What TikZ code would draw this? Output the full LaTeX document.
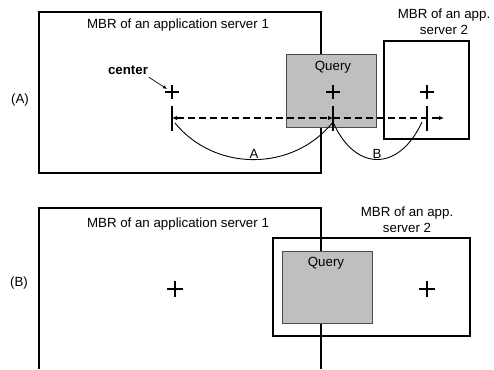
\documentclass[tikz,border=0pt]{standalone}
\usepackage{fontspec}
\setmainfont{Liberation Sans}
\usepackage{xcolor}
\usetikzlibrary{arrows.meta}
\begin{document}
\begin{tikzpicture}[x=1pt, y=-1pt, line width=1.4pt,
    lbl/.style={font=\fontsize{13.3}{16}\selectfont, align=center, inner sep=0pt},
    qbox/.style={fill=black!25, draw=black!70, line width=1pt},
    crossln/.style={line width=2pt},
    dashln/.style={line width=1.8pt, dash pattern=on 7pt off 4pt},
    dtip/.tip={Latex[length=5pt,width=4.5pt]}]
    \useasboundingbox (0,0) rectangle (494,369);
    % (A)
    \draw (39,12) rectangle (321,173);
    \draw (384,41) rectangle (469,139);
    \draw[qbox] (286,54) rectangle (376,127);
    \node[lbl] (srv1A) at (178,25) {MBR of an application server 1};
    \node[lbl] (srv2A) at (444,22) {MBR of an app.\\server 2};
    \node[lbl] (qryA) at (333,67) {Query};
    \node[lbl] (capA) at (20,100) {(A)};
    \node[lbl, font=\fontsize{13.3}{16}\selectfont\bfseries] (ctr) at (128,70) {center};
    \draw[crossln] (172,85) -- (172,99) (165,92) -- (179,92);
    \draw[crossln] (333,85) -- (333,99) (326,92) -- (340,92);
    \draw[crossln] (427,85) -- (427,99) (420,92) -- (434,92);
    \draw[crossln] (172,106) -- (172,131);
    \draw[crossln] (333,106) -- (333,131);
    \draw[crossln] (427,106) -- (427,131);
    \coordinate (p1) at (172,118);
    \coordinate (p2) at (333,118);
    \coordinate (p3) at (444,118);
    \coordinate (a0) at (175,123);
    \coordinate (a1) at (333,122);
    \coordinate (b1) at (422,122);
    \coordinate (ctrtip) at (167,89);
    \draw[dashln, dtip-dtip] (p1) -- (p2);
    \draw[dashln, -dtip] (p2) -- (p3);
    \draw[line width=0.7pt, -{Latex[length=4pt,width=3.5pt]}] (ctr.south east) ++(0,2) -- (ctrtip);
    \draw[line width=0.9pt] (a0) .. controls (215,172) and (293,172) .. (a1)
        node[lbl, pos=0.5, above=1pt] (lblA) {A};
    \draw[line width=0.9pt] (a1) .. controls (355,172) and (399,172) .. (b1)
        node[lbl, pos=0.5, above=1pt] (lblB) {B};
    % (B)
    \draw (39,369) -- (39,208) -- (321,208) -- (321,369);
    \draw (273,238) rectangle (470,336);
    \draw[qbox] (282,251) rectangle (372,323);
    \node[lbl] (srv1B) at (178,224) {MBR of an application server 1};
    \node[lbl] (srv2B) at (407,220) {MBR of an app.\\server 2};
    \node[lbl] (qryB) at (326,263) {Query};
    \node[lbl] (capB) at (19,283) {(B)};
    \draw[line width=1.6pt] (175,281) -- (175,297) (167,289) -- (183,289);
    \draw[line width=1.6pt] (427,281) -- (427,297) (419,289) -- (435,289);
\end{tikzpicture}
\end{document}
